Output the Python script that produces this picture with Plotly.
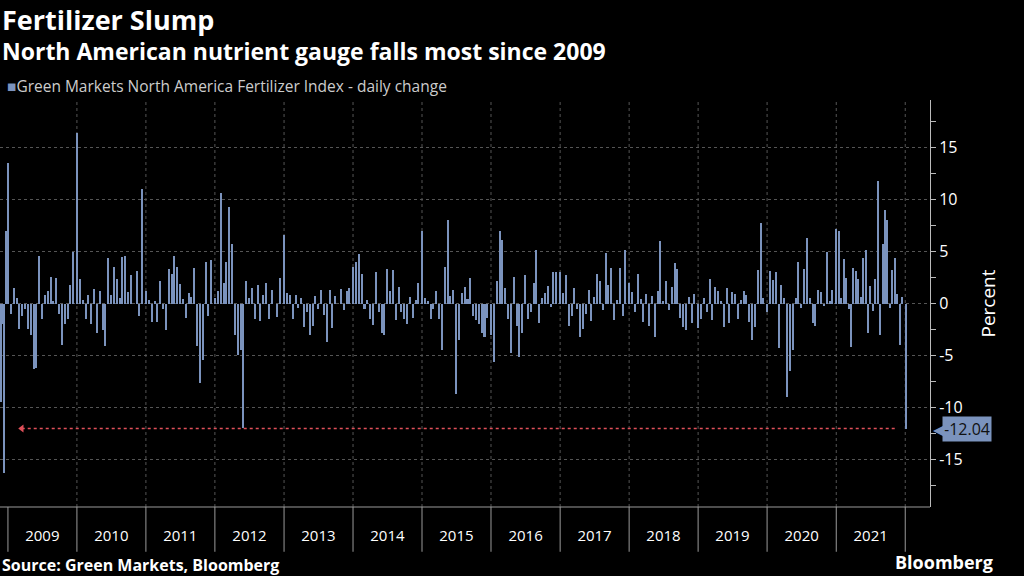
import plotly.graph_objects as go
import pandas as pd

v2008 = [-9.5, -2, -16.3, 7]
v2009 = [13.5, -1, 1.5, 0.5, -2.5, -1.2, -0.5, -2.5, -3, -6.3, -6.2, 4.6, -1.5, 0.8, 1.2, 2.6, 0.2, 2.5, -1, -4, -2, -1.5, 1.8, 5.0]
v2010 = [16.4, 2.4, 0.3, -1.5, 0.8, -2, 1.4, -2.8, 1.2, -2.6, -4.1, 4.4, 0.8, 3.5, 2.4, 0.5, 4.5, 4.6, 1.1, 2.7, 0, 3.1, -1.2, 11.0]
v2011 = [1.2, 0.3, -1.8, 0.2, -1.8, 2.2, -0.5, -2.6, 3.3, 2.8, 4.6, 3.5, 1.9, 0.4, -1.4, 1, 0.6, 3.4, -4.1, -7.7, -5.4, 4.0, -1.2, 4.2]
v2012 = [0.5, 1.2, 10.6, 2, 4, 9.3, 5.7, -3, -5, -4.5, -12, 2.2, 0.5, 1.5, -1.5, 1.8, -1.7, 0.8, 2.0, -1.5, 1.3, 0, -1.3, 2.5]
v2013 = [6.6, 1, 0.8, -1.5, 0.8, -0.4, 0.5, -2.3, -0.8, -3, -2.2, 0.7, -0.5, 1.3, -1.1, -3.7, 1.3, -2.4, 0.7, 0, 1.4, -0.6, 1.2, 1.5]
v2014 = [3.5, 4, 4.8, 2.8, -0.5, 0.3, -1.5, -2.1, 3.0, -0.8, -2.8, -3.0, 3.3, 1.2, 3.2, -1.6, 1.6, -0.8, -1.5, -2.0, 0.6, -1.4, 0.3, 2.0]
v2015 = [7.0, 0.5, 0.2, -1.5, -0.5, 1.2, -1.5, -4.5, 3.5, 8.0, 0.7, 1.3, -8.7, -3.5, 1.0, 1.6, 0.4, 2.5, -1.2, -1.6, -2.0, -2.8, -3.2, -1.4]
v2016 = [-3, -5.6, 2.2, 7.0, 6.1, 1.5, -1.5, -4.8, 2.6, -2.2, -5.2, -2.8, 2.7, -1.5, -0.8, 2.0, 5.2, -1.9, 0.5, 1.0, 1.7, -0.3, 3.0, 3.0]
v2017 = [3.0, 1.0, 2.7, -2.2, -1.2, 1.5, -0.5, -3.2, -2.5, -1.0, 1.3, -1.7, 0.6, 2.8, 2.2, -0.6, 4.9, 1.8, 3.4, -1.6, 0.3, 3.4, -1.2, 5.2]
v2018 = [2.0, 1.1, -0.8, 2.8, 0.4, -1.8, 0.9, -2.2, 0.7, -3.2, 1.2, 6.0, 0.2, 2.2, -0.6, 1.6, 3.9, 3.3, -1.4, -2.3, -2.6, 0.6, -1.9, 0.9]
v2019 = [-2.4, -1.5, 0.5, -0.8, 2.4, -1.6, 1.6, 1.2, 0.2, -2.3, 1.5, -1.9, 1.1, 0.9, -1.5, 0.3, 1.2, 0.8, -1.8, -3.5, -2.3, 3.2, 7.8, 0.5]
v2020 = [-0.8, 3.1, 2.3, 3.0, -4.3, 1.8, 0.5, -9.0, -6.5, -4.5, 0.5, 4.0, -0.4, 3.3, 6.3, 0.5, -1.9, -2.2, 1.3, 1.1, -0.2, 5.0, 0.2, 1.3]
v2021 = [7.2, 7.0, 0.5, 4.3, 2.5, -0.5, -4.2, 3.4, 3.1, 2.4, 0.6, 4.4, 5.2, -2.8, 1.7, -0.7, 2.4, 11.8, -3.0, 5.7, 9.0, 8.0, -0.4, 3.2, 4.4, 0.9, -4.0, 0.6]
v2022 = [-12.04]
years = [str(y) for y in range(2009, 2022)]
last_value = -12.04

series = {2008: v2008, 2009: v2009, 2010: v2010, 2011: v2011, 2012: v2012, 2013: v2013,
          2014: v2014, 2015: v2015, 2016: v2016, 2017: v2017, 2018: v2018, 2019: v2019,
          2020: v2020, 2021: v2021, 2022: v2022}

xs, ys = [], []
for yr, vals in series.items():
    if yr == 2008:
        start, span = pd.Timestamp("2008-11-25"), pd.Timedelta(days=36)
    elif yr == 2022:
        start, span = pd.Timestamp("2022-01-04"), pd.Timedelta(days=7)
    else:
        start, span = pd.Timestamp(f"{yr}-01-03"), pd.Timedelta(days=360)
    n = len(vals)
    for i, v in enumerate(vals):
        xs.append(start + span * i / n)
        ys.append(v)

BAR = "#7b93bd"
fig = go.Figure()
fig.add_trace(go.Bar(x=xs, y=ys, marker=dict(color=BAR, line=dict(width=0)), width=86400000 * 8))

x0 = pd.Timestamp("2008-11-20")
x1 = pd.Timestamp("2022-05-12")

fig.add_trace(go.Scatter(x=[pd.Timestamp("2009-03-15"), pd.Timestamp("2021-11-20")], y=[last_value, last_value],
                         mode="lines", line=dict(color="#e0505a", width=1.5, dash="dot"), hoverinfo="skip"))
fig.add_trace(go.Scatter(x=[pd.Timestamp("2009-03-15")], y=[last_value], mode="markers",
                         marker=dict(symbol="triangle-left", size=7, color="#e0505a"), hoverinfo="skip"))

shapes = []
for y in years + ["2022"]:
    shapes.append(dict(type="line", xref="x", yref="paper", x0=f"{y}-01-01", x1=f"{y}-01-01",
                       y0=0, y1=-0.11, line=dict(color="#9a9a9a", width=1)))
    if y != "2009":
        shapes.append(dict(type="line", xref="x", yref="paper", x0=f"{y}-01-01", x1=f"{y}-01-01", y0=0, y1=1,
                           line=dict(color="#555555", width=1, dash="dot"), layer="below"))
shapes.append(dict(type="line", xref="paper", yref="paper", x0=0, x1=1, y0=0, y1=0,
                   line=dict(color="#9a9a9a", width=1)))

fig.update_layout(
    width=1024, height=576, paper_bgcolor="black", plot_bgcolor="black",
    margin=dict(l=0, r=94, t=100, b=69, autoexpand=False), showlegend=False, bargap=0,
    font=dict(family="Open Sans", color="white"),
    shapes=shapes,
    xaxis=dict(type="date", range=[x0, x1], tickvals=[f"{y}-07-02" for y in years], ticktext=years,
               showgrid=False, ticks="", tickfont=dict(size=15, color="white"), ticklabelstandoff=18,
               zeroline=False, showline=False),
    yaxis=dict(side="right", range=[-19.6, 19.6], tickvals=[-15, -10, -5, 0, 5, 10, 15],
               ticktext=["-15", "-10", "-5", "0", "5", "10", "15"],
               ticks="outside", ticklen=5, tickcolor="#bbbbbb", tickfont=dict(size=16, color="white"),
               showgrid=True, gridcolor="#555555", griddash="dot", zeroline=False,
               showline=True, linecolor="#bbbbbb", linewidth=1,
               minor=dict(tickvals=[-17.5, -12.5, -7.5, -2.5, 2.5, 7.5, 12.5, 17.5], ticks="outside",
                          ticklen=5, tickcolor="#bbbbbb"),
               title=dict(text="Percent", font=dict(size=19, color="white"), standoff=20)),
)

fig.add_annotation(x=1.0, xref="paper", y=last_value, yref="y", xanchor="left", xshift=12,
                   text=f"{last_value:.2f}", showarrow=False, bgcolor=BAR, font=dict(size=16, color="#111111"),
                   borderpad=1)
fig.add_annotation(x=1.0, xref="paper", y=last_value, yref="y", xanchor="left", xshift=1,
                   text="◀", showarrow=False, font=dict(size=15, color=BAR))
fig.add_annotation(xref="paper", yref="paper", x=0, y=1.197, xanchor="left", yanchor="middle",
                   text="<b>Fertilizer Slump</b>", showarrow=False, font=dict(size=27, color="white"))
fig.add_annotation(xref="paper", yref="paper", x=0, y=1.121, xanchor="left", yanchor="middle",
                   text="<b>North American nutrient gauge falls most since 2009</b>", showarrow=False,
                   font=dict(size=23, color="white"))
fig.add_annotation(xref="paper", yref="paper", x=0.005, y=1.034, xanchor="left", yanchor="middle",
                   text="<span style='color:#7b93bd'>■</span>Green Markets North America Fertilizer Index - daily change",
                   showarrow=False, font=dict(size=15.5, color="#cccccc"))
fig.add_annotation(xref="paper", yref="paper", x=0, y=-0.1425, xanchor="left", yanchor="middle",
                   text="<b>Source: Green Markets, Bloomberg</b>", showarrow=False,
                   font=dict(size=16, color="white"))
fig.add_annotation(xref="paper", yref="paper", x=1.07, y=-0.135, xanchor="right", yanchor="middle",
                   text="<b>Bloomberg</b>", showarrow=False, font=dict(size=18, color="white"))

fig.write_html("out.html", post_script="document.body.style.margin='0';",
               config={"displayModeBar": False})
